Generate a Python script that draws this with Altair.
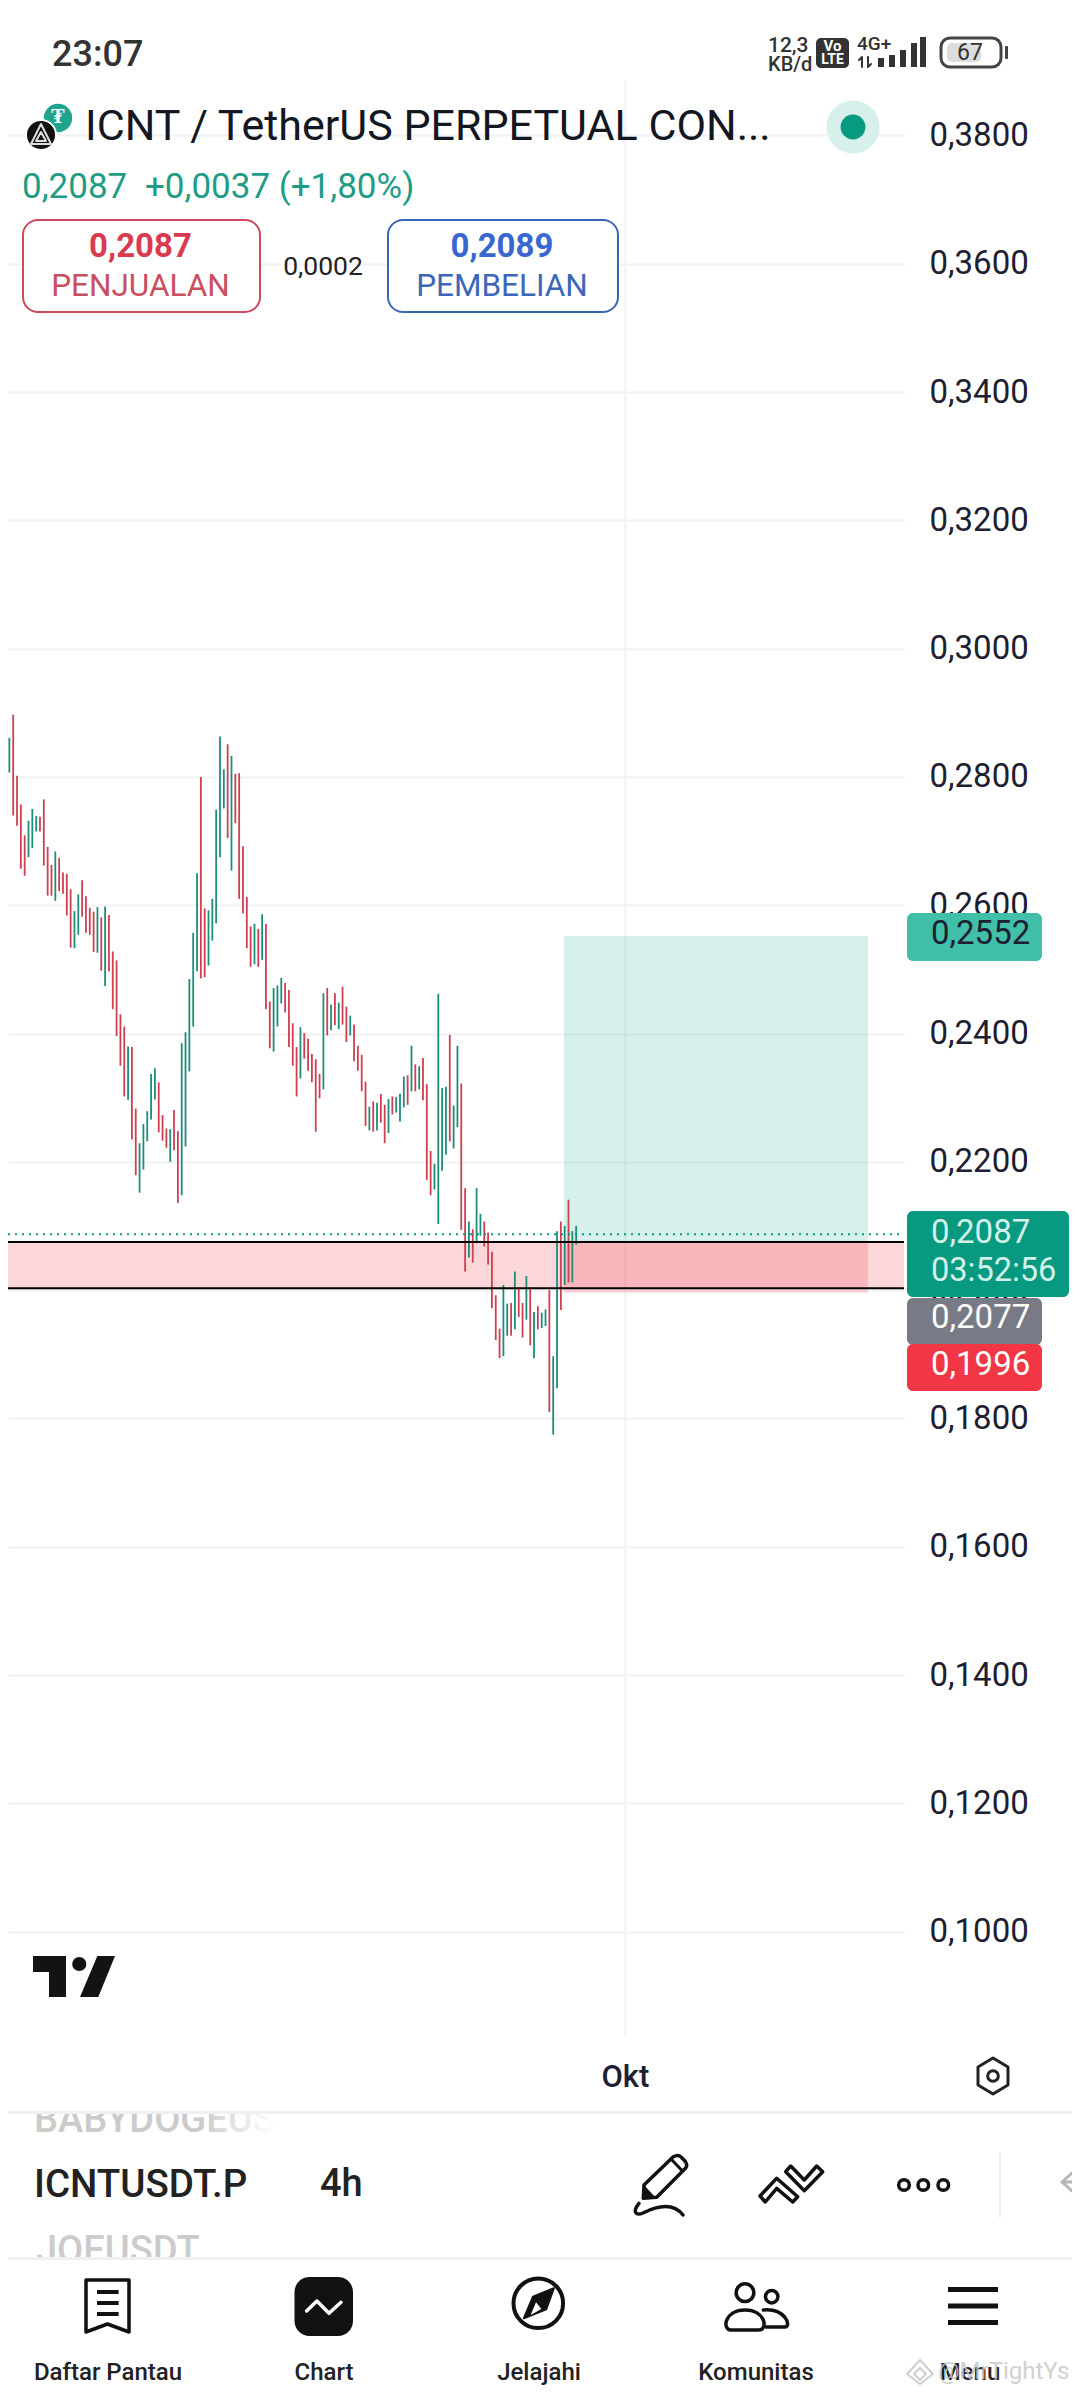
import re
import altair as alt
import pandas as pd

# ---------- data ----------
HIGH = [.2828,.2820,.2861,.2897,.2802,.2757,.2709,.2732,.2750,.2739,
        .2738,.2765,.2691,.2663,.2684,.2674,.2651,.2649,.2625,.2591,
        .2617,.2639,.2614,.2596,.2590,.2597,.2581,.2598,.2585,.2528,
        .2514,.2430,.2411,.2380,.2379,.2283,.2229,.2259,.2279,.2337,
        .2346,.2324,.2273,.2252,.2251,.2281,.2248,.2385,.2402,.2485,
        .2557,.2650,.2800,.2595,.2592,.2610,.2749,.2863,.2812,.2851,
        .2833,.2805,.2806,.2692,.2613,.2567,.2571,.2563,.2586,.2571,
        .2450,.2471,.2475,.2487,.2479,.2468,.2416,.2379,.2410,.2401,
        .2392,.2368,.2360,.2337,.2463,.2471,.2445,.2463,.2448,.2473,
        .2442,.2428,.2414,.2381,.2367,.2325,.2286,.2294,.2292,.2306,
        .2289,.2298,.2302,.2301,.2306,.2333,.2335,.2381,.2352,.2349,
        .2362,.2321,.2217,.2197,.2462,.2315,.2317,.2398,.2288,.2381,
        .2322,.2159,.2107,.2095,.2159,.2119,.2107,.2090,.2060,.1992,
        .1940,.2008,.1979,.1980,.2029,.2004,.1980,.2022,.2004,.1966,
        .1975,.1965,.1970,.2000,.1897,.2092,.2107,.2100,.2141,.2092,.2100]
LOW = [.2788,.2805,.2807,.2740,.2724,.2657,.2646,.2675,.2689,.2715,
       .2715,.2662,.2615,.2615,.2607,.2622,.2618,.2584,.2534,.2533,
       .2554,.2582,.2557,.2554,.2527,.2526,.2498,.2474,.2497,.2438,
       .2396,.2350,.2302,.2297,.2235,.2179,.2152,.2188,.2232,.2266,
       .2297,.2246,.2233,.2222,.2200,.2218,.2136,.2148,.2224,.2341,
       .2411,.2497,.2486,.2488,.2506,.2545,.2572,.2675,.2751,.2705,
       .2654,.2728,.2610,.2587,.2533,.2504,.2508,.2504,.2515,.2438,
       .2377,.2372,.2411,.2447,.2433,.2379,.2350,.2302,.2330,.2361,
       .2342,.2324,.2247,.2299,.2313,.2397,.2405,.2413,.2407,.2414,
       .2387,.2397,.2357,.2342,.2310,.2256,.2249,.2247,.2249,.2261,
       .2229,.2245,.2274,.2277,.2263,.2285,.2289,.2310,.2310,.2313,
       .2296,.2172,.2148,.2157,.2103,.2186,.2211,.2232,.2221,.2254,
       .2094,.2029,.2051,.2043,.2075,.2085,.2068,.2040,.1972,.1922,
       .1894,.1897,.1929,.1929,.1939,.1958,.1926,.1954,.1914,.1894,
       .1939,.1941,.1944,.1810,.1775,.1847,.1969,.2008,.2012,.2012,.2071]
DIRECTION = list("GGGRRRRGGG" "RRRRGRRRRG" "GRRRRGRGRR" "RRRGRRGGGG"
                 "GRRRGRRGGG" "GGRRGGGGGR" "GRRRRRGRGR" "RGGGRRRRGR"
                 "RRRRGRGRGR" "RGRRRRGRGR" "RGRGGGRGRG" "RRRGGGGRGG"
                 "RRGRGGRRRR" "RGGRGRRGRG" "RGGRGGRGRGG")
PRICE_TICKS = [0.10, 0.12, 0.14, 0.16, 0.18, 0.20, 0.22, 0.24, 0.26, 0.28, 0.30, 0.32, 0.34, 0.36, 0.38]
LAST_PRICE = 0.2087
TARGET = 0.2552
ENTRY = 0.2077
STOP = 0.1996
ZONE_TOP = 0.2075
ZONE_BOTTOM = 0.2003
POSITION_START = 146.8
POSITION_END = 226.2
OKT_INDEX = 162.7
TITLE = "ICNT / TetherUS PERPETUAL CON..."

# ---------- geometry of the page ----------
OX, OY = 8, 80            # page position of the plot origin
PW, PH = 896, 1955
XD = [1.645, 235.6]
YD = [0.08389, 0.38865]
XS = alt.Scale(domain=XD, nice=False, zero=False)
YS = alt.Scale(domain=YD, nice=False, zero=False)
INK = "#1c2030"
GREEN = "#089981"
RED = "#f23645"
ONE = pd.DataFrame({"a": [0]})


def px(v):
    return v - OX


def py(v):
    return v - OY


def pos(x, y):
    return dict(x=alt.value(px(x)), y=alt.value(py(y)))


def txt(s, x, y, size, color=INK, weight=400, align="left", **kw):
    return alt.Chart(ONE).mark_text(text=s, font="Roboto", fontSize=size, fontWeight=weight,
                                    align=align, baseline="middle", color=color, **kw).encode(**pos(x, y))


def box(x0, y0, x1, y1, fill, radius=0, **kw):
    return alt.Chart(ONE).mark_rect(fill=fill, cornerRadius=radius, **kw).encode(
        x=alt.value(px(x0)), x2=alt.value(px(x1)), y=alt.value(py(y0)), y2=alt.value(py(y1)))


def dot(x, y, r, fill=None, stroke=None, sw=0):
    kw = dict(shape="circle", size=3.14159 * r * r, opacity=1)
    if fill:
        kw.update(filled=True, fill=fill)
    else:
        kw.update(filled=False)
    if stroke:
        kw.update(stroke=stroke, strokeWidth=sw)
    return alt.Chart(ONE).mark_point(**kw).encode(**pos(x, y))


def icon(path, cx, cy, fill=None, stroke=None, sw=3.5):
    """Draw a UI icon from a path written in page pixels."""
    H = 100.0
    out, is_x = [], True
    for tok in re.findall(r"[A-Za-z]|-?[0-9.]+", path):
        if tok.isalpha():
            out.append(tok)
            is_x = True
        else:
            v = float(tok)
            out.append(f"{(v - cx) / H:.4f}" if is_x else f"{(v - cy) / H:.4f}")
            is_x = not is_x
    kw = dict(shape=" ".join(out), size=(2 * H) ** 2, opacity=1, strokeJoin="round", strokeCap="round")
    if fill:
        kw.update(filled=True, fill=fill)
    else:
        kw.update(filled=False)
    if stroke:
        kw.update(stroke=stroke, strokeWidth=sw)
    else:
        kw.update(strokeWidth=0)
    return alt.Chart(ONE).mark_point(**kw).encode(**pos(cx, cy))


# ---------- chart layers ----------
candles = pd.DataFrame({"i": range(len(HIGH)), "high": HIGH, "low": LOW, "dir": DIRECTION})
rects = pd.DataFrame({
    "i0": [XD[0], POSITION_START, POSITION_START],
    "i1": [XD[1], POSITION_END, POSITION_END],
    "p0": [ZONE_TOP, ENTRY, TARGET],
    "p1": [ZONE_BOTTOM, STOP, ENTRY],
    "fill": ["zone", "stop", "target"],
})

x_enc = alt.X("i0:Q", scale=XS, title=None, axis=alt.Axis(
    values=[OKT_INDEX], labelExpr="'Okt'", grid=True, gridColor="#f2f2f4", gridWidth=2,
    ticks=False, domain=False, labelFont="Roboto", labelFontSize=31, labelFontWeight=500,
    labelColor=INK, labelPadding=27))
y_enc = alt.Y("p0:Q", scale=YS, title=None, axis=alt.Axis(
    orient="right", values=PRICE_TICKS, labelExpr="replace(format(datum.value,'.4f'),'.',',')",
    grid=True, gridColor="#f2f2f4", gridWidth=2, ticks=False, domain=False, labelFont="Roboto",
    labelFontSize=33, labelColor=INK, labelPadding=25, labelOverlap=False, labelFlush=False))

zones = alt.Chart(rects).mark_rect(opacity=0.2).encode(
    x=x_enc, x2="i1:Q", y=y_enc, y2="p1:Q",
    fill=alt.Fill("fill:N", legend=None, scale=alt.Scale(domain=["zone", "stop", "target"], range=[RED, RED, "#32b99b"])),
)
bars = alt.Chart(candles).mark_rule(strokeWidth=1.8).encode(
    x=alt.X("i:Q", scale=XS),
    y=alt.Y("high:Q", scale=YS),
    y2="low:Q",
    color=alt.Color("dir:N", legend=None, scale=alt.Scale(domain=["G", "R"], range=["#1e8c7a", "#cf3f50"])),
)


def hline(p, **kw):
    return alt.Chart(pd.DataFrame({"p": [p]})).mark_rule(**kw).encode(
        y=alt.Y("p:Q", scale=YS), x=alt.value(0), x2=alt.value(PW))


layers = [zones, bars,
          hline(ZONE_TOP, color="#000000", strokeWidth=2),
          hline(ZONE_BOTTOM, color="#000000", strokeWidth=2),
          hline(LAST_PRICE, color=GREEN, strokeWidth=2, strokeDash=[2, 5])]

# price badges
layers += [
    box(907, 913, 1042, 961, "#42bfa8", 6),
    txt("0,2552", 931, 934, 33),
    box(907, 1298, 1042, 1345, "#787b86", 6),
    txt("0,2077", 931, 1317.5, 33, "#ffffff"),
    box(907, 1344, 1042, 1391, RED, 6),
    txt("0,1996", 931, 1364.5, 33, "#ffffff"),
    box(907, 1211, 1069, 1297, GREEN, 6),
    txt("0,2087", 931, 1232.5, 33, "#d2f2ea"),
    txt("03:52:56", 931, 1271, 32.5, "#d2f2ea"),
]

# status bar
layers += [
    txt("23:07", 52, 54.5, 36, "#333333", 500),
    txt("12,3", 768, 46, 21, "#333333", 500),
    txt("KB/d", 768, 65, 20, "#333333", 500),
    box(816, 38, 849, 68, "#333333", 5),
    txt("Vo", 832.5, 46, 15, "#ffffff", 700, "center"),
    txt("LTE", 832.5, 60, 14, "#ffffff", 700, "center"),
    txt("4G+", 857, 44, 19, "#333333", 500),
    icon("M862 67 L862 57 M859 60 L862 57 M868 57 L868 67 L871 64", 865, 62, stroke="#333333", sw=2),
    box(878, 58, 884, 67, "#333333"),
    box(889, 55, 895, 67, "#333333"),
    box(900, 50, 906, 67, "#333333"),
    box(911, 43, 917, 67, "#333333"),
    box(920, 37, 926, 67, "#333333"),
    box(941, 38, 1001, 67, "#ffffff", 9, stroke="#444444", strokeWidth=3),
    box(947, 43, 981, 62, "#dddddd", 5),
    txt("67", 970, 53, 23, "#333333", 400, "center"),
    box(1005, 46, 1008, 59, "#444444", 1),
]

# header
layers += [
    dot(58, 118, 16, fill="#1fa48d"),
    txt("₮", 58, 117, 20, "#ffffff", 700, "center"),
    dot(41, 135, 17, fill="#111111", stroke="#ffffff", sw=2),
    icon("M41 124 L51 144 L31 144 Z M41 132 L46 141 L36 141 Z", 41, 135, stroke="#dddddd", sw=2),
    txt(TITLE, 85, 126.5, 43, "#131722"),
    dot(853, 127, 30, fill="#d7f0eb"),
    dot(853, 127, 14, fill=GREEN),
    txt("0,2087", 22, 186.5, 35, "#1f9c85"),
    txt("+0,0037 (+1,80%)", 145, 186.5, 35, "#1f9c85"),
    box(23, 220, 260, 312, "#ffffff", 15, stroke="#cc4a5b", strokeWidth=2),
    txt("0,2087", 140.5, 246.5, 33, "#d83b4f", 700, "center"),
    txt("PENJUALAN", 140.5, 286.5, 31.5, "#c94f5f", 400, "center"),
    txt("0,0002", 323, 267, 26.5, "#222222", 400, "center"),
    box(388, 220, 618, 312, "#ffffff", 15, stroke="#3a66b8", strokeWidth=2),
    txt("0,2089", 502, 246.5, 33, "#3a66d0", 700, "center"),
    txt("PEMBELIAN", 502, 286.5, 31.5, "#3c66b8", 400, "center"),
]

# TradingView logo
layers += [
    icon("M33 1956 L66 1956 L66 1997 L49 1997 L49 1972 L33 1972 Z", 50, 1976, fill="#131313"),
    dot(79.3, 1964, 8, fill="#131313"),
    icon("M97.3 1956 L115 1956 L98.3 1997 L80 1997 Z", 97, 1976, fill="#131313"),
]

# hexagon settings icon
layers += [
    icon("M993 2058 L1008 2067 L1008 2085 L993 2094 L978 2085 L978 2067 Z", 993, 2076, stroke="#222222", sw=3),
    dot(993, 2076, 6, stroke="#222222", sw=3),
]

# symbol strip
fade = alt.Gradient(gradient="linear", x1=0, x2=1, y1=0, y2=0, stops=[
    alt.GradientStop(offset=0, color="rgba(255,255,255,0)"),
    alt.GradientStop(offset=1, color="rgba(255,255,255,1)")])
layers += [
    txt("BABYDOGEUSDT", 34, 2120.5, 38, "#cbcbcb", 500),
    box(200, 2100, 275, 2140, fade),
    box(275, 2100, 500, 2140, "#ffffff"),
    box(0, 2100, 620, 2112, "#ffffff"),
    box(0, 2111, 1080, 2114, "#f0f0f0"),
    txt("ICNTUSDT.P", 34, 2185, 38.5, "#222222", 500),
    txt("4h", 320, 2185, 38, "#222222", 500),
    txt("JOEUSDT", 36, 2252, 38, "#cbcbcb", 500),
    box(0, 2257, 400, 2275, "#ffffff"),
    box(0, 2257, 1080, 2260, "#f0f0f0"),
    # pencil
    icon("M644 2185 L673.3 2156.7 Q678 2154 681 2157 L685 2161 Q688 2165 685.7 2168 L656.7 2197.3 L643.3 2198.3 Z",
         665, 2178, stroke="#111111"),
    icon("M672 2160 L681.5 2170", 677, 2165, stroke="#111111", sw=3),
    icon("M644 2185 L655 2197 L643.3 2198.3 Z", 648, 2194, fill="#111111"),
    icon("M639 2203.3 C632 2212 636 2216 643 2213 C653 2208 672 2201 683 2215", 660, 2208, stroke="#111111"),
    # chevrons
    icon("M760 2196 L776.7 2178.3 L797.7 2196.7 L792.7 2202 L776.7 2188.3 L765.3 2202 Z", 778, 2190, stroke="#111111"),
    icon("M785.7 2171.7 L790.7 2166 L804.3 2180 L816.7 2166 L822.7 2171.7 L804.3 2190.7 Z", 804, 2178, stroke="#111111"),
    dot(904, 2185, 6, stroke="#111111", sw=3.5),
    dot(923.3, 2185, 6, stroke="#111111", sw=3.5),
    dot(943.3, 2185, 6, stroke="#111111", sw=3.5),
    box(999, 2152, 1001, 2218, "#f0f0f0"),
    icon("M1072 2173 L1062 2182 L1072 2191 M1062 2182 L1080 2182", 1070, 2182, stroke="#b5b5b5", sw=3),
]

# navigation bar
layers += [
    icon("M86 2280 L129 2280 L129 2332 L107.5 2324 L86 2332 Z", 107, 2305, stroke="#111111", sw=3.5),
    box(97, 2290, 118.6, 2294, "#111111"),
    box(97, 2301, 118.6, 2305, "#111111"),
    box(97, 2312, 118.6, 2316, "#111111"),
    txt("Daftar Pantau", 108, 2373, 24, "#222222", 500, "center"),
    box(294.5, 2277, 353, 2336, "#111111", 15),
    icon("M306.6 2311 L316.9 2301 L329 2313.3 L341 2302.3", 324, 2306, stroke="#ffffff", sw=3.5),
    txt("Chart", 324, 2373, 24, "#222222", 500, "center"),
    dot(538.3, 2303.3, 28, stroke="#111111", sw=4),
    icon("M553.8 2288.3 L533 2296.7 L523.8 2318.3 L546.2 2309.3 Z", 538, 2303, fill="#111111", stroke="#111111", sw=2),
    icon("M530.7 2315 L536 2302.3 L541.4 2309 Z", 536, 2309, fill="#ffffff"),
    txt("Jelajahi", 539, 2373, 24, "#222222", 500, "center"),
    dot(745, 2292.7, 10, stroke="#111111", sw=3.5),
    dot(771.7, 2296.7, 7, stroke="#111111", sw=3.5),
    icon("M731 2330 C722 2330 724 2310 745 2310 C766 2310 768 2330 759 2330 Z", 745, 2320, stroke="#111111"),
    icon("M763.3 2310 C785 2308 792 2326 785 2327 L766 2327", 775, 2318, stroke="#111111"),
    txt("Komunitas", 756, 2373, 24, "#222222", 500, "center"),
    box(948, 2287, 998, 2292, "#111111"),
    box(948, 2303.5, 998, 2308.5, "#111111"),
    box(948, 2320, 998, 2325, "#111111"),
    txt("Menu", 970, 2373, 24, "#222222", 500, "center"),
    icon("M920 2360 L933 2374 L920 2384 L907 2374 Z M920 2368 L926 2374 L920 2380 L914 2374 Z", 920, 2372,
         stroke="#cfcfcf", sw=2),
    txt("@MrTightYs", 938, 2372, 24, "#c9c9c9", 400, opacity=0.85),
]

chart = alt.layer(*layers).resolve_scale(
    x="shared", y="shared", fill="independent", color="independent"
).properties(
    width=PW, height=PH,
    padding={"left": 0, "top": 72, "right": 168, "bottom": 351},
    autosize=alt.AutoSizeParams(type="none"),
    background="#ffffff",
).configure_view(stroke=None)

chart.save("out.html", embed_options={"renderer": "svg", "actions": False})
